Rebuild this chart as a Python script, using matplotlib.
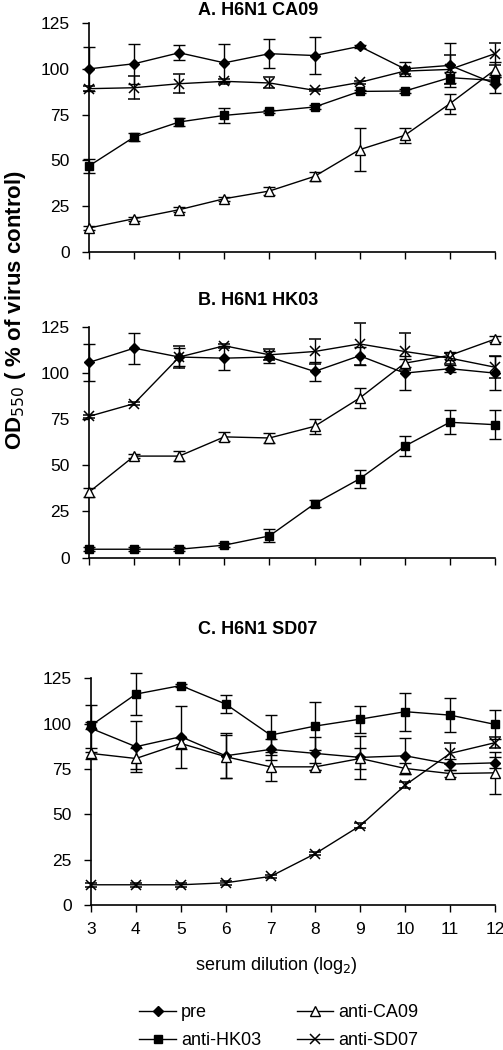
import numpy as np
import matplotlib
matplotlib.use('Agg')
import matplotlib.pyplot as plt
from matplotlib.lines import Line2D

plt.rcParams['font.family'] = ['Liberation Sans', 'DejaVu Sans']

dilution = [3, 4, 5, 6, 7, 8, 9, 10, 11, 12]
series_names = ['pre', 'anti-HK03', 'anti-CA09', 'anti-SD07']
panel_titles = ['A. H6N1 CA09', 'B. H6N1 HK03', 'C. H6N1 SD07']

# panel A
a_pre = [100, 102.8, 108.8, 103.3, 108.3, 107.3, 112.3, 100, 101.9, 91.9]
a_pre_err = [12, 11, 4, 10.5, 8, 10, 1, 4, 12, 5]
a_hk03 = [47, 62.8, 71, 74.6, 76.8, 79.2, 87.7, 87.9, 95.2, 93.7]
a_hk03_err = [4, 2, 2, 4, 1, 1, 1, 1, 3, 2]
a_ca09 = [13.1, 18.2, 23.1, 29.1, 33.3, 41.3, 55.9, 63.7, 81, 99.5]
a_ca09_err = [1, 1, 1.5, 1, 2, 2.5, 11.7, 4, 5.5, 4]
a_sd07 = [89.2, 89.7, 91.9, 93.2, 92.3, 88.3, 92.6, 98.8, 99.7, 108.3]
a_sd07_err = [1.5, 6.3, 5.2, 1.5, 3, 0.5, 1, 1.5, 8, 6]

# panel B
b_pre = [105.6, 113.3, 108.5, 107.9, 108.5, 100.7, 109.2, 99.8, 102.2, 99.8]
b_pre_err = [10, 8.3, 5, 6.5, 3, 5, 5, 9, 2, 9]
b_hk03 = [4.5, 4.5, 4.5, 6.7, 11.7, 29.1, 42.6, 60.3, 73.2, 71.9]
b_hk03_err = [1, 1, 1, 1, 3.5, 2, 5, 5.5, 6.5, 8]
b_ca09 = [35.4, 54.9, 54.9, 65.3, 64.7, 71, 86.3, 105.2, 109.4, 118.2]
b_ca09_err = [2.5, 1, 2.5, 2.5, 2.5, 4, 5.5, 2, 2, 1.5]
b_sd07 = [76.4, 83.3, 108.5, 114.6, 109.7, 111.5, 115.6, 111.5, 107.9, 103]
b_sd07_err = [1, 1, 6, 1, 3, 7, 11.5, 10, 3, 6]

# panel C
c_pre = [97.4, 87.3, 92.8, 82.3, 85.8, 83.6, 81.4, 82.3, 77.7, 78.4]
c_pre_err = [13, 14, 17, 12.5, 6, 9, 12, 10, 3, 3]
c_hk03 = [99, 116.3, 121, 110.8, 93.7, 98.7, 102.5, 106.6, 104.7, 99.6]
c_hk03_err = [2, 11.5, 1, 5, 11, 13, 7.5, 10.5, 9.5, 8]
c_ca09 = [83.6, 80.8, 89.1, 81.8, 76.2, 76.2, 80.8, 75.3, 72.5, 72.9]
c_ca09_err = [3, 6, 3, 12, 8, 2, 6, 3, 2, 11.5]
c_sd07 = [11.2, 11.2, 11.2, 12.3, 15.8, 28.4, 43.8, 66.1, 83.6, 89.5]
c_sd07_err = [1, 1, 1, 1, 1, 1, 1.5, 1.5, 6, 3]

panels = [
    [(a_pre, a_pre_err), (a_hk03, a_hk03_err), (a_ca09, a_ca09_err), (a_sd07, a_sd07_err)],
    [(b_pre, b_pre_err), (b_hk03, b_hk03_err), (b_ca09, b_ca09_err), (b_sd07, b_sd07_err)],
    [(c_pre, c_pre_err), (c_hk03, c_hk03_err), (c_ca09, c_ca09_err), (c_sd07, c_sd07_err)],
]

styles = [
    dict(marker='D', ms=5.5, mfc='black', mec='black'),
    dict(marker='s', ms=6, mfc='black', mec='black'),
    dict(marker='^', ms=6.5, mfc='white', mec='black'),
    dict(marker='x', ms=7, mfc='none', mec='black', mew=1.1),
]

fig = plt.figure(figsize=(5.03, 10.5), dpi=100)
boxes = [[0.177, 0.760, 0.807, 0.218],
         [0.177, 0.469, 0.807, 0.220],
         [0.181, 0.138, 0.803, 0.216]]
title_y = [0.990, 0.714, 0.400]

for i, (box, data) in enumerate(zip(boxes, panels)):
    ax = fig.add_axes(box)
    for j, (vals, err) in enumerate(data):
        ax.errorbar(dilution, vals, yerr=err, color='black', lw=1.0,
                    elinewidth=1.0, capsize=4, capthick=1.0,
                    clip_on=False, zorder=3, **styles[j])
    ax.set_xlim(3, 12)
    ax.set_ylim(0, 125)
    ax.set_yticks([0, 25, 50, 75, 100, 125])
    ax.set_xticks(dilution)
    ax.spines['top'].set_visible(False)
    ax.spines['right'].set_visible(False)
    ax.spines['left'].set_linewidth(1.2)
    ax.spines['bottom'].set_linewidth(1.2)
    ax.tick_params(direction='out', length=5, width=1.0, labelsize=12.5)
    ax.tick_params(axis='y', pad=9)
    ax.tick_params(axis='x', pad=7)
    if i < 2:
        ax.set_xticklabels([])
    fig.text(0.513, title_y[i], panel_titles[i], ha='center', va='center',
             fontsize=13, fontweight='bold')

fig.text(0.03, 0.705, 'OD$_{550}$ ( % of virus control)', rotation=90,
         ha='center', va='center', fontsize=16, fontweight='bold')
fig.text(0.55, 0.080, 'serum dilution (log$_2$)', ha='center', va='center', fontsize=13)

handles = [Line2D([], [], color='black', lw=1.0, **s) for s in styles]
fig.legend(handles=handles, labels=series_names, ncol=2, loc='center',
           bbox_to_anchor=(0.555, 0.022), frameon=False, fontsize=13,
           handlelength=2.0, columnspacing=2.0, handletextpad=0.3, labelspacing=0.6)

fig.savefig('out.png', dpi=100)
